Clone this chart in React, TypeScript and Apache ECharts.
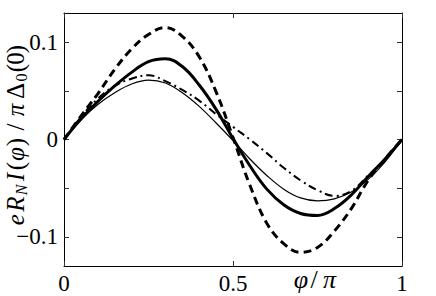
import React, { useEffect, useRef } from 'react';
import * as echarts from 'echarts';

// phi / pi sample positions
const phiOverPi = [0, 0.05, 0.1, 0.15, 0.2, 0.25, 0.3, 0.35, 0.4, 0.45, 0.5, 0.55, 0.6, 0.65, 0.7, 0.75, 0.8, 0.85, 0.9, 0.95, 1];

// thin solid curve
const thinCurve = [0, 0.02, 0.036, 0.048, 0.057, 0.061, 0.058, 0.048, 0.034, 0.017, -0.001, -0.02, -0.037, -0.051, -0.06, -0.063, -0.061, -0.054, -0.041, -0.023, 0];
// thick solid curve
const thickCurve = [0, 0.021, 0.039, 0.055, 0.069, 0.08, 0.083, 0.075, 0.056, 0.031, 0.001, -0.027, -0.051, -0.067, -0.076, -0.078, -0.071, -0.057, -0.038, -0.02, 0];
// thick dashed curve
const dashedCurve = [0, 0.024, 0.047, 0.072, 0.093, 0.108, 0.115, 0.106, 0.085, 0.049, 0.002, -0.047, -0.086, -0.107, -0.116, -0.111, -0.094, -0.071, -0.042, -0.02, 0];
// dash-dot curve
const dashDotCurve = [0, 0.023, 0.042, 0.055, 0.0625, 0.066, 0.06, 0.051, 0.04, 0.026, 0.013, 0.0, -0.014, -0.029, -0.042, -0.052, -0.058, -0.053, -0.037, -0.02, 0];

const yTickValues = [-0.1, -0.05, 0, 0.05, 0.1];
const yLabelValues = [-0.1, 0, 0.1];

const SERIF = 'Liberation Serif';

const fmt = (v: number) => (v === 0 ? '0' : (v < 0 ? '\u2212' : '') + String(Math.abs(v)));

function glyph(text: string, cx: number, cy: number, size: number, italic: boolean) {
  const style: any = {
    text,
    fontFamily: SERIF,
    fontSize: size,
    fill: '#000',
    align: 'center',
    verticalAlign: 'middle',
  };
  if (italic) style.fontStyle = 'italic';
  return { type: 'text', x: cx, y: cy, style };
}

export default function App() {
  const ref = useRef<HTMLDivElement>(null);
  useEffect(() => {
    if (!ref.current) return;
    const chart = echarts.init(ref.current, undefined, { renderer: 'svg' });
    const mk = (ys: number[], width: number, type: any, z: number) => ({
      type: 'line',
      data: phiOverPi.map((x, i) => [x, ys[i]]),
      symbol: 'none',
      showSymbol: false,
      smooth: 0.4,
      lineStyle: { color: '#000', width, type },
      z,
    });
    const M = 25; // main glyph size
    const S = 16; // subscript size
    const mc = -0.3 * M; // center offset for baseline 0
    const sc = 4 - 0.3 * S;
    const axisLine = { show: true, onZero: false, lineStyle: { color: '#000', width: 1 } };
    const tick = { show: true, inside: true, length: 5, lineStyle: { color: '#333' } };
    const labelStyle = { fontFamily: SERIF, fontSize: 23, color: '#000', margin: 6, formatter: fmt };
    chart.setOption({
      animation: false,
      backgroundColor: '#fff',
      grid: { left: 64, right: 34, top: 13, bottom: 30, outerBoundsMode: 'none' },
      xAxis: [
        {
          type: 'value', min: 0, max: 1, interval: 0.5, position: 'bottom',
          axisLine, axisTick: tick,
          axisLabel: labelStyle,
          splitLine: { show: false },
        },
        {
          type: 'value', min: 0, max: 1, interval: 0.5, position: 'top',
          axisLine, axisTick: tick,
          axisLabel: { show: false },
          splitLine: { show: false },
        },
      ],
      yAxis: [
        {
          type: 'value', min: -0.13, max: 0.13, position: 'left',
          axisLine, axisTick: { ...tick, customValues: yTickValues },
          axisLabel: { ...labelStyle, customValues: yLabelValues },
          splitLine: { show: false },
        },
        {
          type: 'value', min: -0.13, max: 0.13, position: 'right',
          axisLine, axisTick: { ...tick, customValues: yTickValues },
          axisLabel: { show: false },
          splitLine: { show: false },
        },
      ],
      series: [
        mk(thinCurve, 1.2, 'solid', 2),
        mk(thickCurve, 3, 'solid', 3),
        mk(dashDotCurve, 2, [8, 4, 2, 4], 4),
        mk(dashedCurve, 3, [8, 5], 5),
      ],
      graphic: [
        {
          type: 'group',
          x: 22.5,
          y: 227,
          rotation: Math.PI / 2,
          children: [
            glyph('e', 7.2, mc, M, true),
            glyph('R', 23, mc, M, true),
            glyph('N', 37, sc, S, true),
            glyph('I', 50, mc, M, true),
            glyph('(', 61, mc, M, false),
            glyph('\u03c6', 73, mc, M, true),
            glyph(')', 85, mc, M, false),
            glyph('/', 100, mc, M, false),
            glyph('\u03c0', 117, mc, M, true),
            glyph('\u0394', 136, mc, M, false),
            glyph('0', 149.5, sc, S, false),
            glyph('(', 159, mc, M, false),
            glyph('0', 168.5, mc, M, false),
            glyph(')', 178, mc, M, false),
          ],
        },
        glyph('\u03c6', 301, 287 - 0.3 * 26, 26, true),
        glyph('/', 314, 287 - 0.3 * 26, 26, false),
        glyph('\u03c0', 329.5, 287 - 0.3 * 26, 26, true),
      ],
    });
    return () => chart.dispose();
  }, []);
  return <div ref={ref} style={{ position: 'fixed', left: 0, top: 0, width: 436, height: 296 }} />;
}
